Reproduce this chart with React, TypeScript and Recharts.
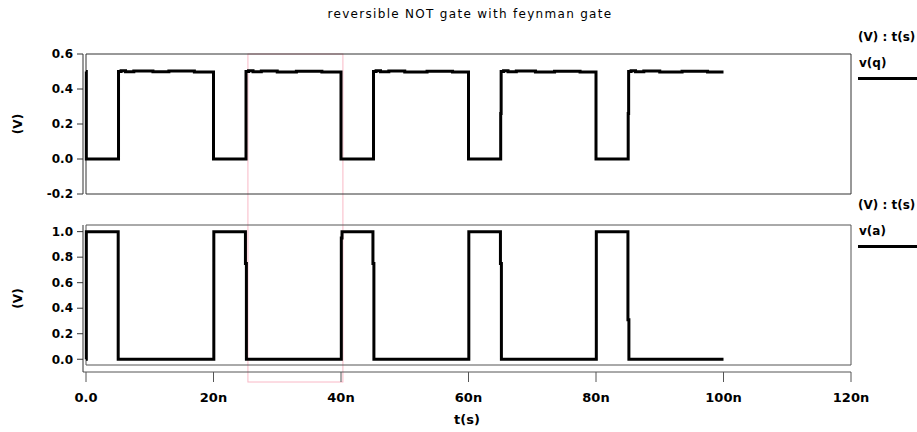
import React from 'react';
import { Line, LineChart, ReferenceArea, XAxis, YAxis } from 'recharts';

// time in ns, voltage in V
const timeTicks = [0, 20, 40, 60, 80, 100, 120];
const qTicks = [-0.2, 0, 0.2, 0.4, 0.6];
const aTicks = [0, 0.2, 0.4, 0.6, 0.8, 1.0];
const qDomain = [-0.2, 0.6];
const aDomain = [-0.045, 1.052];
const timeDomain = [0, 120];
const selection = [25.4, 40.3];

const vqTime = [
  0, 0.05, 5.0, 5.1, 5.5, 6.2, 7.5, 10.5, 13.0, 17.0, 19.9, 20.0,
  25.0, 25.1, 25.5, 26.2, 27.5, 30.0, 33.0, 37.0, 39.9, 40.0,
  45.0, 45.1, 45.5, 46.2, 47.5, 50.0, 53.5, 57.5, 59.9, 60.0,
  65.0, 65.05, 65.12, 65.5, 66.2, 67.5, 70.5, 73.5, 77.5, 79.9, 80.0,
  85.0, 85.05, 85.12, 85.5, 86.2, 87.5, 90.0, 93.5, 97.5, 100.0,
];
const vqValue = [
  0.5, 0.0, 0.0, 0.5, 0.505, 0.498, 0.503, 0.498, 0.503, 0.497, 0.497, 0.0,
  0.0, 0.5, 0.505, 0.498, 0.503, 0.497, 0.502, 0.497, 0.497, 0.0,
  0.0, 0.5, 0.505, 0.498, 0.503, 0.497, 0.502, 0.497, 0.497, 0.0,
  0.0, 0.26, 0.5, 0.505, 0.498, 0.503, 0.497, 0.502, 0.497, 0.497, 0.0,
  0.0, 0.26, 0.5, 0.505, 0.498, 0.503, 0.497, 0.502, 0.497, 0.497,
];

const vaTime = [
  0, 0.05, 5.0, 5.05, 20.0, 20.05, 25.0, 25.01, 25.15, 25.16, 40.0, 40.05, 40.15, 40.16,
  45.0, 45.01, 45.15, 45.16, 60.0, 60.05, 65.0, 65.01, 65.15, 65.16,
  80.0, 80.05, 85.0, 85.01, 85.15, 85.16, 100.0,
];
const vaValue = [
  0.0, 1.0, 1.0, 0.0, 0.0, 1.0, 1.0, 0.75, 0.75, 0.0, 0.0, 0.95, 0.95, 1.0,
  1.0, 0.75, 0.75, 0.0, 0.0, 1.0, 1.0, 0.75, 0.75, 0.0,
  0.0, 1.0, 1.0, 0.31, 0.31, 0.0, 0.0,
];

const vqData = vqTime.map((t, i) => ({ t, v: vqValue[i] }));
const vaData = vaTime.map((t, i) => ({ t, v: vaValue[i] }));

const FONT = '"DejaVu Sans", Verdana, sans-serif';
const SELECTION_BOTTOM = 382;

const yTickStyle = { fill: '#000', fontSize: 12, fontWeight: 'bold', fontFamily: FONT };
const xTickStyle = { fill: '#000', fontSize: 13, fontWeight: 'bold', fontFamily: FONT };
const fmtV = (v: number) => v.toFixed(1);
const fmtT = (v: number) => (v === 0 ? '0.0' : `${v}n`);

const LegendBlock = ({ top, name }: { top: number; name: string }) => (
  <div style={{ position: 'absolute', left: 858, top, width: 59, fontFamily: FONT, fontWeight: 'bold', fontSize: 12, color: '#000' }}>
    <div style={{ position: 'absolute', top: 0, left: 0, whiteSpace: 'nowrap', lineHeight: '14px' }}>(V) : t(s)</div>
    <div style={{ position: 'absolute', top: 26, left: 1, whiteSpace: 'nowrap', lineHeight: '14px' }}>{name}</div>
    <div style={{ position: 'absolute', top: 47, left: 0, width: 59, height: 3, background: '#000' }} />
  </div>
);

export default function App() {
  return (
    <div style={{ position: 'absolute', left: 0, top: 0, width: 917, height: 432, background: '#fff', overflow: 'hidden' }}>
      <div style={{ position: 'absolute', left: 0, top: 7, width: 940, textAlign: 'center', fontFamily: FONT, fontSize: 12, lineHeight: '14px', letterSpacing: 1.3, color: '#000' }}>
        reversible NOT gate with feynman gate
      </div>

      <div style={{ position: 'absolute', left: 0, top: 0 }}>
        <LineChart width={917} height={432} data={vqData} margin={{ top: 54, right: 66, bottom: 238, left: 0 }}>
          <XAxis dataKey="t" type="number" domain={timeDomain} ticks={timeTicks} hide padding={{ left: 3, right: 0 }} />
          <YAxis
            type="number"
            domain={qDomain}
            ticks={qTicks}
            width={83}
            tickSize={6}
            tickMargin={4}
            tickFormatter={fmtV}
            axisLine={{ stroke: '#333' }}
            tickLine={{ stroke: '#333' }}
            tick={yTickStyle}
            label={{ value: '(V)', angle: -90, position: 'insideLeft', offset: 18, style: { textAnchor: 'middle', fontWeight: 'bold', fontSize: 12, fill: '#000', fontFamily: FONT } }}
          />
          <ReferenceArea
            x1={selection[0]}
            x2={selection[1]}
            y1={qDomain[0]}
            y2={qDomain[1]}
            ifOverflow="visible"
            shape={(p: any) => (
              <rect x={p.x} y={p.y} width={p.width} height={SELECTION_BOTTOM - p.y} fill="none" stroke="#f9b8c6" strokeWidth={1} />
            )}
          />
          <ReferenceArea x1={timeDomain[0]} x2={timeDomain[1]} y1={qDomain[0]} y2={qDomain[1]} fill="none" fillOpacity={0} stroke="#333" strokeWidth={1} ifOverflow="visible" />
          <Line type="stepAfter" dataKey="v" stroke="#000" strokeWidth={3} dot={false} isAnimationActive={false} />
        </LineChart>
      </div>

      <div style={{ position: 'absolute', left: 0, top: 200, pointerEvents: 'none' }}>
        <LineChart width={917} height={232} data={vaData} margin={{ top: 25, right: 66, bottom: 4, left: 0 }}>
          <XAxis
            dataKey="t"
            type="number"
            domain={timeDomain}
            ticks={timeTicks}
            padding={{ left: 3, right: 0 }}
            height={56}
            tickSize={10}
            tickMargin={11}
            tickFormatter={fmtT}
            axisLine={{ stroke: '#555' }}
            tickLine={{ stroke: '#555' }}
            tick={xTickStyle}
            label={{ value: 't(s)', position: 'insideBottom', offset: 4, style: { fontWeight: 'bold', fontSize: 13, fill: '#000', fontFamily: FONT } }}
          />
          <YAxis
            type="number"
            domain={aDomain}
            ticks={aTicks}
            width={83}
            padding={{ top: 0, bottom: 7 }}
            tickSize={6}
            tickMargin={4}
            tickFormatter={fmtV}
            axisLine={{ stroke: '#333' }}
            tickLine={{ stroke: '#333' }}
            tick={yTickStyle}
            label={{ value: '(V)', angle: -90, position: 'insideLeft', offset: 18, style: { textAnchor: 'middle', fontWeight: 'bold', fontSize: 12, fill: '#000', fontFamily: FONT } }}
          />
          <ReferenceArea x1={timeDomain[0]} x2={timeDomain[1]} y1={aDomain[0]} y2={aDomain[1]} fill="none" fillOpacity={0} stroke="#555" strokeWidth={1} ifOverflow="visible" />
          <Line type="stepAfter" dataKey="v" stroke="#000" strokeWidth={3} dot={false} isAnimationActive={false} />
        </LineChart>
      </div>

      <LegendBlock top={30} name="v(q)" />
      <LegendBlock top={198} name="v(a)" />
    </div>
  );
}
